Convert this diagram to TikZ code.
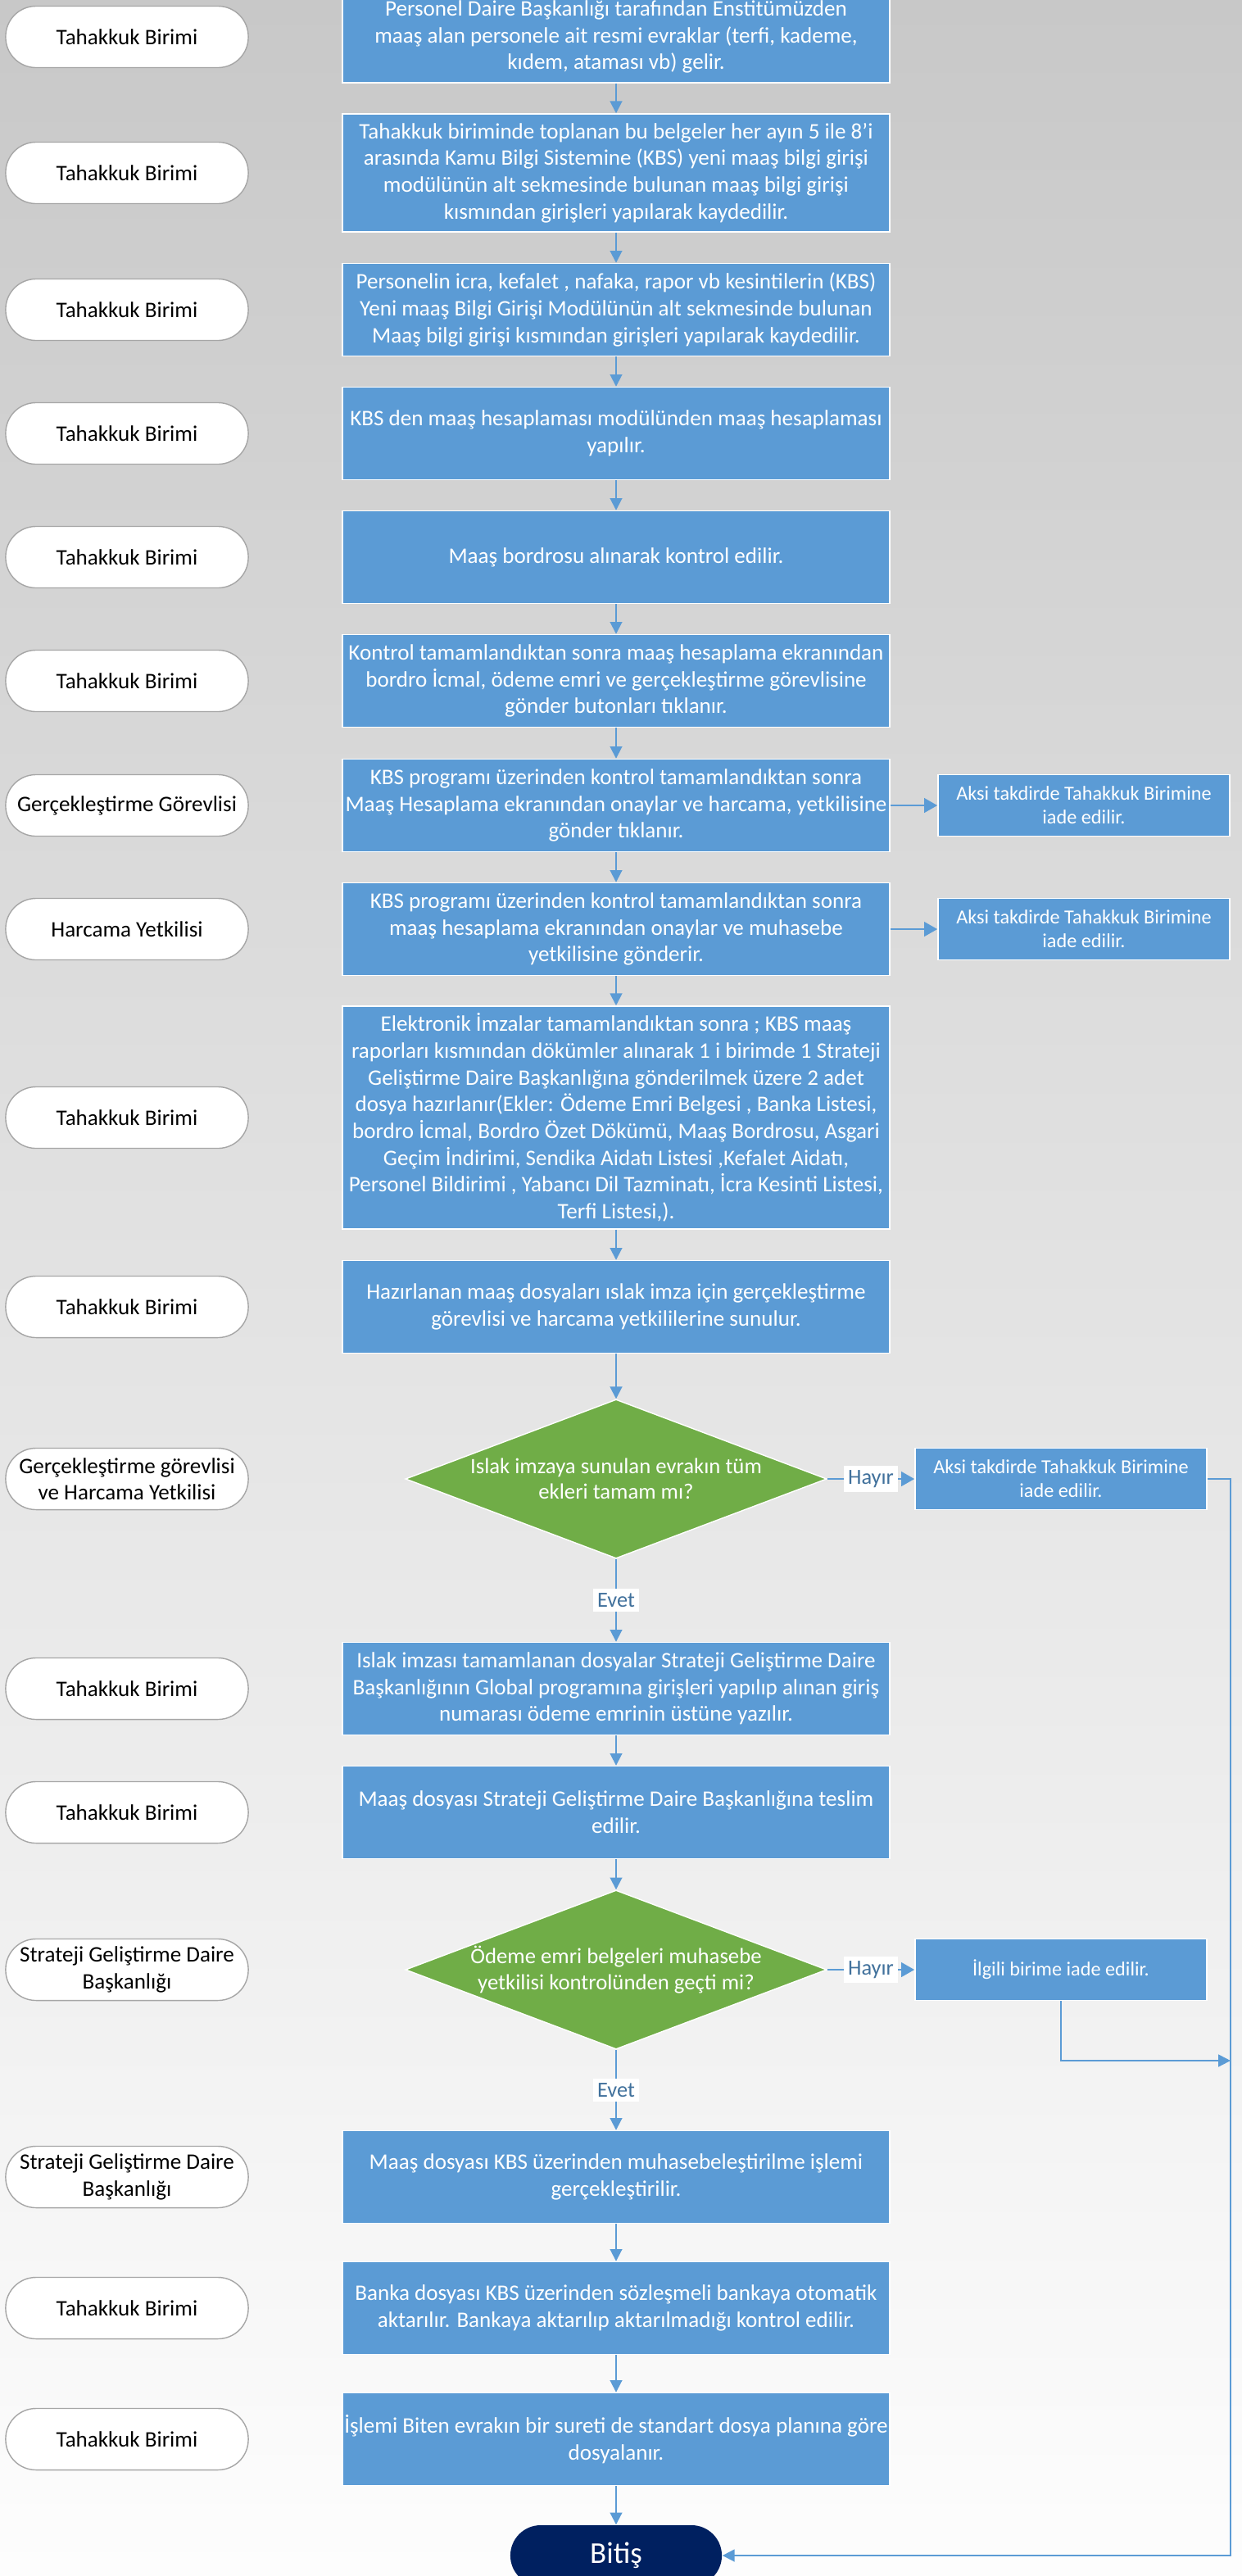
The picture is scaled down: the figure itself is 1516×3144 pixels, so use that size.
\documentclass[tikz,border=0pt]{standalone}
\usepackage{fontspec}
\setmainfont{Carlito}
\usetikzlibrary{shapes.geometric,arrows.meta}
\definecolor{boxblue}{HTML}{5B9BD5}
\definecolor{okgreen}{HTML}{70AD47}
\definecolor{endnavy}{HTML}{002060}
\definecolor{tagblue}{HTML}{41719C}
\definecolor{unitgray}{HTML}{A6A6A6}
\definecolor{bgtop}{RGB}{200,200,200}
\definecolor{bgmid}{RGB}{236,236,236}
\definecolor{bgbottom}{RGB}{253,253,253}
\begin{document}
\begin{tikzpicture}[
    x=0.01cm, y=-0.01cm,
    stepbox/.style={draw=white, line width=0.4pt, fill=boxblue, text=white, align=center,
      minimum width=6.68cm, minimum height=1.13cm, inner sep=0pt,
      font=\fontsize{7.7}{9.3}\selectfont},
    sidebox/.style={stepbox, minimum width=3.56cm, minimum height=0.75cm,
      font=\fontsize{6.9}{8.3}\selectfont},
    unit/.style={draw=unitgray, line width=0.4pt, fill=white, rounded corners=0.37cm,
      minimum width=2.96cm, minimum height=0.75cm, align=center, inner sep=0pt,
      font=\fontsize{7.7}{9.2}\selectfont},
    check/.style={diamond, aspect=2.65, draw=white, line width=0.4pt, fill=okgreen,
      text=white, align=center, inner sep=0pt, minimum width=5.14cm, minimum height=1.94cm,
      font=\fontsize{7.6}{8.9}\selectfont},
    flow/.style={draw=boxblue, line width=0.55pt, -{Triangle[length=4.2pt,width=4.2pt]}},
    side/.style={flow, line width=0.8pt, -{Triangle[length=4.6pt,width=5pt]}},
    answer/.style={fill=white, text=tagblue, inner sep=1.5pt, font=\fontsize{7.5}{8}\selectfont}
  ]
  \useasboundingbox (0,0) rectangle (1516,3144);
  \fill[top color=bgtop, middle color=bgmid, bottom color=bgbottom] (0,0) rectangle (1516,3144);

  % units on the left
  \foreach \y/\t [count=\i] in {45/{Tahakkuk Birimi}, 211/{Tahakkuk Birimi}, 378/{Tahakkuk Birimi},
      529/{Tahakkuk Birimi}, 680/{Tahakkuk Birimi}, 831/{Tahakkuk Birimi},
      983/{Gerçekleştirme Görevlisi}, 1134/{Harcama Yetkilisi}, 1364/{Tahakkuk Birimi},
      1595/{Tahakkuk Birimi}, 1805/{Gerçekleştirme görevlisi\\ve Harcama Yetkilisi},
      2061/{Tahakkuk Birimi}, 2212/{Tahakkuk Birimi}, 2404/{Strateji Geliştirme Daire\\Başkanlığı},
      2657/{Strateji Geliştirme Daire\\Başkanlığı}, 2817/{Tahakkuk Birimi}, 2977/{Tahakkuk Birimi}}
    \node[unit] (u\i) at (155,\y) {\t};

  % steps
  \node[stepbox, minimum height=1.12cm] (b1) at (752,45) {Personel Daire Başkanlığı tarafından Enstitümüzden\\maaş alan personele ait resmi evraklar (terfi, kademe,\\kıdem, ataması vb) gelir.};
  \node[stepbox, minimum height=1.44cm] (b2) at (752,211) {Tahakkuk biriminde toplanan bu belgeler her ayın 5 ile 8'i\\arasında Kamu Bilgi Sistemine (KBS) yeni maaş bilgi girişi\\modülünün alt sekmesinde bulunan maaş bilgi girişi\\kısmından girişleri yapılarak kaydedilir.};
  \node[stepbox] (b3) at (752,378) {Personelin icra, kefalet , nafaka, rapor vb kesintilerin (KBS)\\Yeni maaş Bilgi Girişi Modülünün alt sekmesinde bulunan\\Maaş bilgi girişi kısmından girişleri yapılarak kaydedilir.};
  \node[stepbox] (b4) at (752,529) {KBS den maaş hesaplaması modülünden maaş hesaplaması\\yapılır.};
  \node[stepbox] (b5) at (752,680) {Maaş bordrosu alınarak kontrol edilir.};
  \node[stepbox] (b6) at (752,831) {Kontrol tamamlandıktan sonra maaş hesaplama ekranından\\bordro İcmal, ödeme emri ve gerçekleştirme görevlisine\\gönder butonları tıklanır.};
  \node[stepbox] (b7) at (752,983) {KBS programı üzerinden kontrol tamamlandıktan sonra\\Maaş Hesaplama ekranından onaylar ve harcama, yetkilisine\\gönder tıklanır.};
  \node[stepbox] (b8) at (752,1134) {KBS programı üzerinden kontrol tamamlandıktan sonra\\maaş hesaplama ekranından onaylar ve muhasebe\\yetkilisine gönderir.};
  \node[stepbox, minimum height=2.72cm] (b9) at (752,1364) {Elektronik İmzalar tamamlandıktan sonra ; KBS maaş\\raporları kısmından dökümler alınarak 1 i birimde 1 Strateji\\Geliştirme Daire Başkanlığına gönderilmek üzere 2 adet\\dosya hazırlanır(Ekler: Ödeme Emri Belgesi , Banka Listesi,\\bordro İcmal, Bordro Özet Dökümü, Maaş Bordrosu, Asgari\\Geçim İndirimi, Sendika Aidatı Listesi ,Kefalet Aidatı,\\Personel Bildirimi , Yabancı Dil Tazminatı, İcra Kesinti Listesi,\\Terfi Listesi,).};
  \node[stepbox] (b10) at (752,1595) {Hazırlanan maaş dosyaları ıslak imza için gerçekleştirme\\görevlisi ve harcama yetkililerine sunulur.};
  \node[check] (d1) at (752,1805) {Islak imzaya sunulan evrakın tüm\\ekleri tamam mı?};
  \node[stepbox] (b11) at (752,2061) {Islak imzası tamamlanan dosyalar Strateji Geliştirme Daire\\Başkanlığının Global programına girişleri yapılıp alınan giriş\\numarası ödeme emrinin üstüne yazılır.};
  \node[stepbox] (b12) at (752,2212) {Maaş dosyası Strateji Geliştirme Daire Başkanlığına teslim\\edilir.};
  \node[check] (d2) at (752,2404) {Ödeme emri belgeleri muhasebe\\yetkilisi kontrolünden geçti mi?};
  \node[stepbox] (b13) at (752,2657) {Maaş dosyası KBS üzerinden muhasebeleştirilme işlemi\\gerçekleştirilir.};
  \node[stepbox] (b14) at (752,2817) {Banka dosyası KBS üzerinden sözleşmeli bankaya otomatik\\aktarılır. Bankaya aktarılıp aktarılmadığı kontrol edilir.};
  \node[stepbox] (b15) at (752,2977) {İşlemi Biten evrakın bir sureti de standart dosya planına göre\\dosyalanır.};
  \node[fill=endnavy, text=white, rounded corners=0.37cm, minimum width=2.58cm,
    minimum height=0.74cm, font=\fontsize{10.5}{12}\selectfont] (end) at (752,3119) {Bitiş};

  % returns on the right
  \node[sidebox] (r1) at (1323,983) {Aksi takdirde Tahakkuk Birimine\\iade edilir.};
  \node[sidebox] (r2) at (1323,1134) {Aksi takdirde Tahakkuk Birimine\\iade edilir.};
  \node[sidebox] (r3) at (1295,1805) {Aksi takdirde Tahakkuk Birimine\\iade edilir.};
  \node[sidebox] (r4) at (1295,2404) {İlgili birime iade edilir.};
  \coordinate (rail) at (1502,3119);
  \coordinate (join) at (1502,2515);

  \foreach \a/\b in {b1/b2, b2/b3, b3/b4, b4/b5, b5/b6, b6/b7, b7/b8, b8/b9, b9/b10,
      b10/d1, b11/b12, b12/d2, b13/b14, b14/b15, b15/end}
    \draw[flow] (\a) -- (\b);
  \draw[flow] (d1) -- node[answer] {Evet} (b11);
  \draw[flow] (d2) -- node[answer] {Evet} (b13);
  \draw[side] (b7) -- (r1);
  \draw[side] (b8) -- (r2);
  \draw[side] (d1) -- node[answer] {Hayır} (r3);
  \draw[side] (d2) -- node[answer] {Hayır} (r4);
  \draw[flow] (r3.east) -| (rail) -- (end.east);
  \draw[flow] (r4.south) |- (join);
\end{tikzpicture}
\end{document}
